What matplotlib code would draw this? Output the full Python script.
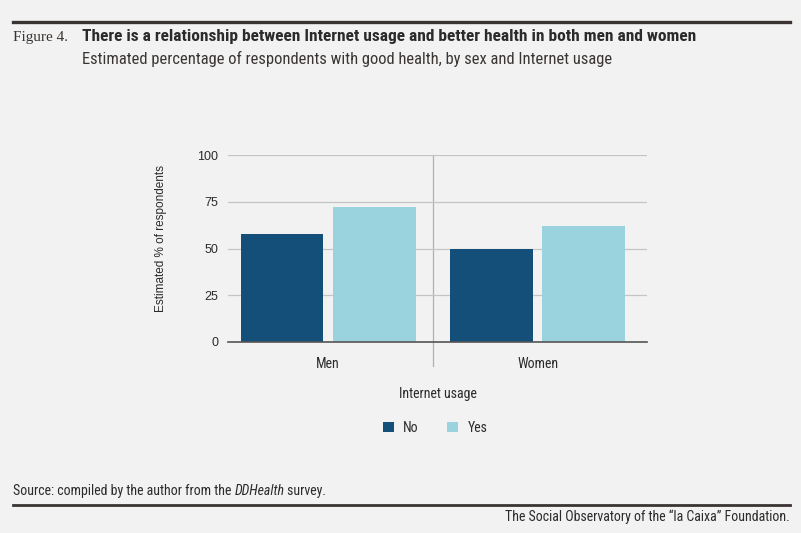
import matplotlib
matplotlib.use('Agg')
import matplotlib.pyplot as plt
import numpy as np

categories = ['Men', 'Women']
series_names = ['No', 'Yes']
values_no = [58, 50]
values_yes = [72, 62]
y_ticks = [0, 25, 50, 75, 100]

dark_blue = '#134f78'
light_blue = '#9ad2dd'
bg = '#f2f2f2'
text_col = '#2b2b2b'
arial = ['Liberation Sans', 'DejaVu Sans']

plt.rcParams['font.family'] = ['Roboto Condensed', 'Liberation Sans', 'DejaVu Sans']

fig = plt.figure(figsize=(8.01, 5.33), dpi=100, facecolor=bg)
W, H = 801, 533

# axes in pixel coords: x 228..647, y 155..342
ax = fig.add_axes([228 / W, 1 - 342 / H, (647 - 228) / W, (342 - 155) / H])
ax.set_facecolor(bg)

x = np.arange(len(categories)) - 0.022
width = 0.395
ax.bar(x - 0.22, values_no, width, color=dark_blue, label=series_names[0], zorder=3)
ax.bar(x + 0.22, values_yes, width, color=light_blue, label=series_names[1], zorder=3)

ax.set_xlim(-0.5, 1.5)
ax.set_ylim(0, 100)
ax.set_yticks(y_ticks)
ax.set_yticklabels([str(t) for t in y_ticks], fontsize=9, color=text_col, family=arial)
ax.set_xticks(x)
ax.set_xticklabels(categories, fontsize=10, color=text_col)
ax.tick_params(axis='y', length=0, pad=7)
ax.tick_params(axis='x', length=0, pad=11)
ax.grid(axis='y', color='#c4c4c4', linewidth=0.9, zorder=0)
for s in ['top', 'right', 'left']:
    ax.spines[s].set_visible(False)
ax.spines['bottom'].set_color('#555555')
ax.spines['bottom'].set_linewidth(1.2)
ax.spines['bottom'].set_zorder(4)

# category separator
ax.axvline(0.478, ymin=-0.13, ymax=1, color='#b0b0b0', linewidth=0.9, clip_on=False, zorder=1)

ax.set_ylabel('Estimated % of respondents', fontsize=8.5, color=text_col, family=arial)
ax.yaxis.set_label_coords(-0.145, 0.555)
ax.set_xlabel('Internet usage', fontsize=10, color=text_col, labelpad=11)

leg = fig.legend(loc='center', bbox_to_anchor=(435 / W, 1 - 428 / H), ncol=2, frameon=False,
                 fontsize=10, handlelength=0.8, handleheight=0.8, columnspacing=2.0,
                 handletextpad=0.7)
for t in leg.get_texts():
    t.set_color(text_col)

# header
fig.add_artist(plt.Line2D([13 / W, 790 / W], [1 - 22 / H, 1 - 22 / H], color='#3a3533', linewidth=2.4))
fig.text(13 / W, 1 - 37 / H, 'Figure 4.', fontsize=11, family=['Liberation Serif', 'DejaVu Serif'],
         color='#3a3533', va='center')
fig.text(82 / W, 1 - 36 / H,
         'There is a relationship between Internet usage and better health in both men and women',
         fontsize=12.5, fontweight='bold', color='#2b2b2b', va='center')
fig.text(82 / W, 1 - 59 / H,
         'Estimated percentage of respondents with good health, by sex and Internet usage',
         fontsize=11.9, color='#3a3533', va='center')

# footer
src = fig.text(13 / W, 1 - 495 / H, 'Source: compiled by the author from the ', fontsize=10,
               color=text_col, va='baseline')
src2 = ax.annotate('DDHealth', xy=(1, 0), xycoords=src, fontsize=10, style='italic',
                   color=text_col, va='bottom', annotation_clip=False)
ax.annotate(' survey.', xy=(1, 0), xycoords=src2, fontsize=10, color=text_col,
            va='bottom', annotation_clip=False)
fig.add_artist(plt.Line2D([13 / W, 790 / W], [1 - 505 / H, 1 - 505 / H], color='#3a3533', linewidth=2.0))
fig.text(790 / W, 1 - 517 / H, 'The Social Observatory of the \u201cla Caixa\u201d Foundation.',
         fontsize=10, color=text_col, va='center', ha='right')

fig.savefig('out.png', dpi=100, facecolor=bg)
